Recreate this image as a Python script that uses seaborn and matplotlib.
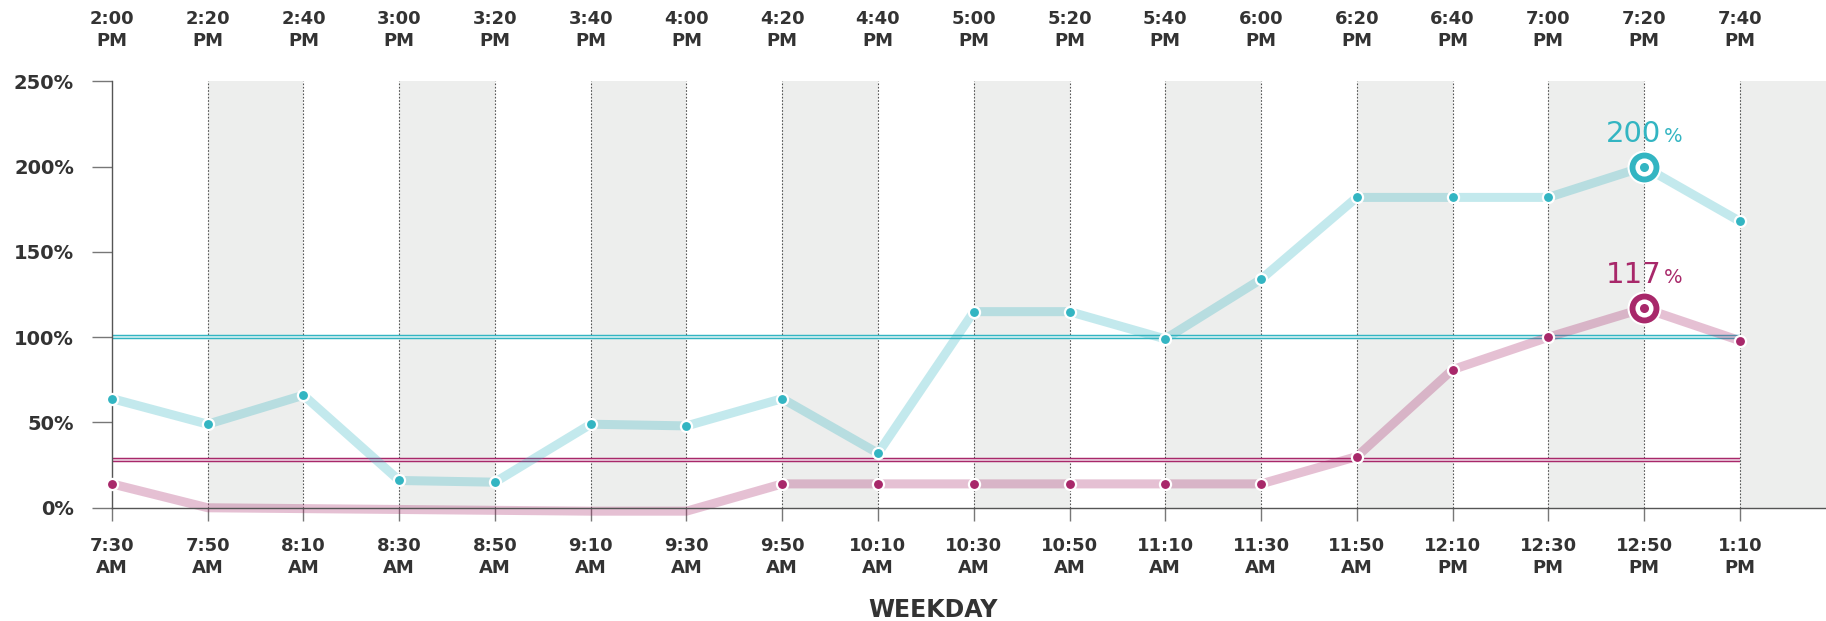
import numpy as np
import matplotlib
matplotlib.use('Agg')
from matplotlib import pyplot as plt
from matplotlib.offsetbox import TextArea, HPacker, AnnotationBbox
import seaborn as sns

bottom_labels = ['7:30\nAM', '7:50\nAM', '8:10\nAM', '8:30\nAM', '8:50\nAM', '9:10\nAM',
                 '9:30\nAM', '9:50\nAM', '10:10\nAM', '10:30\nAM', '10:50\nAM', '11:10\nAM',
                 '11:30\nAM', '11:50\nAM', '12:10\nPM', '12:30\nPM', '12:50\nPM', '1:10\nPM']
top_labels = ['2:00\nPM', '2:20\nPM', '2:40\nPM', '3:00\nPM', '3:20\nPM', '3:40\nPM',
              '4:00\nPM', '4:20\nPM', '4:40\nPM', '5:00\nPM', '5:20\nPM', '5:40\nPM',
              '6:00\nPM', '6:20\nPM', '6:40\nPM', '7:00\nPM', '7:20\nPM', '7:40\nPM']
cyan_vals = [64, 49, 66, 16, 15, 49, 48, 64, 32, 115, 115, 99, 134, 182, 182, 182, 200, 168]
magenta_vals = [14, 0, -0.5, -1, -1.5, -2, -2, 14, 14, 14, 14, 14, 14, 30, 81, 100, 117, 98]
cyan_target = 100
magenta_target = 28
y_ticks = [0, 50, 100, 150, 200, 250]

CYAN = '#33b5c2'
MAGENTA = '#a8286a'
TXT = '#333333'

sns.set_theme(style='white')
plt.rcParams['font.family'] = ['DejaVu Sans']
plt.rcParams['font.weight'] = 'bold'

x = np.arange(len(bottom_labels))
xmax = 17.9
ymin, ymax = -12, 258

fig = plt.figure(figsize=(18.26, 6.21), dpi=100)
ax = fig.add_axes([0.0613, 0.1494, 0.9387, 0.7414])
ax.set_xlim(0, xmax)
ax.set_ylim(ymin, ymax)

# alternating grey bands
for s in x[1::2]:
    ax.fill_between([s, s + 1], 0, y_ticks[-1], color='#edeeed', lw=0, zorder=0)
ax.vlines(x[1:], 0, y_ticks[-1], colors='#555555', linestyles=(0, (1.5, 1.5)), lw=0.8, zorder=1)

# target lines (double rule)
for tgt, c in [(cyan_target, CYAN), (magenta_target, MAGENTA)]:
    ax.hlines(tgt, x[0], x[-1], color=c, lw=3.2, zorder=1.5)
    ax.hlines(tgt, x[0], x[-1], color='white', alpha=0.8, lw=1.2, zorder=1.6)

# series
for vals, c in [(cyan_vals, CYAN), (magenta_vals, MAGENTA)]:
    vals = np.asarray(vals, dtype=float)
    sns.lineplot(x=x, y=vals, ax=ax, color=c, alpha=0.29, lw=6.5,
                 solid_joinstyle='round', solid_capstyle='butt', zorder=2, clip_on=False)
    show = vals > 0
    ax.plot(x[show], vals[show], 'o', ms=8, mfc=c, mec='white', mew=1.6,
            zorder=3, clip_on=False)
    i = int(np.argmax(vals))
    ax.plot(x[i], vals[i], 'o', ms=23, mfc=c, mec='white', mew=1.5, zorder=4, clip_on=False)
    ax.plot(x[i], vals[i], 'o', ms=13, mfc='white', mec='none', zorder=5, clip_on=False)
    ax.plot(x[i], vals[i], 'o', ms=6.5, mfc=c, mec='none', zorder=6, clip_on=False)
    num = TextArea(f'{vals[i]:.0f}', textprops=dict(color=c, fontsize=21, fontweight='normal'))
    pct = TextArea('%', textprops=dict(color=c, fontsize=14, fontweight='normal'))
    box = HPacker(children=[num, pct], align='baseline', pad=0, sep=2)
    ab = AnnotationBbox(box, (x[i], vals[i]), xybox=(0, 13.5), boxcoords='offset points',
                        box_alignment=(0.5, 0), frameon=False, pad=0, zorder=7)
    ax.add_artist(ab)

# axes styling
for side in ['top', 'right']:
    ax.spines[side].set_visible(False)
ax.spines['left'].set_bounds(0, y_ticks[-1])
ax.spines['bottom'].set_position(('data', 0))
for side in ['left', 'bottom']:
    ax.spines[side].set_color('#555555')
    ax.spines[side].set_linewidth(1)
    ax.spines[side].set_zorder(2.5)

ax.set_yticks(y_ticks, labels=[f'{v}%' for v in y_ticks])
ax.set_xticks(x, labels=bottom_labels, linespacing=1.3)
ax.tick_params(axis='y', left=True, direction='out', length=14.4, width=1, color='#777777',
               pad=13, labelsize=14, labelcolor=TXT)
ax.tick_params(axis='x', bottom=True, direction='out', length=9, width=1, color='#777777',
               pad=12, labelsize=13, labelcolor=TXT)

top = ax.secondary_xaxis('top')
top.set_xticks(x, labels=top_labels, linespacing=1.3)
top.tick_params(length=0, pad=13, labelsize=13, labelcolor=TXT)
top.spines['top'].set_visible(False)

ax.set_xlabel('WEEKDAY', fontsize=17, fontweight='bold', color=TXT)
ax.xaxis.set_label_coords(8.57 / xmax, -0.152)

fig.savefig('out.png', dpi=100)
